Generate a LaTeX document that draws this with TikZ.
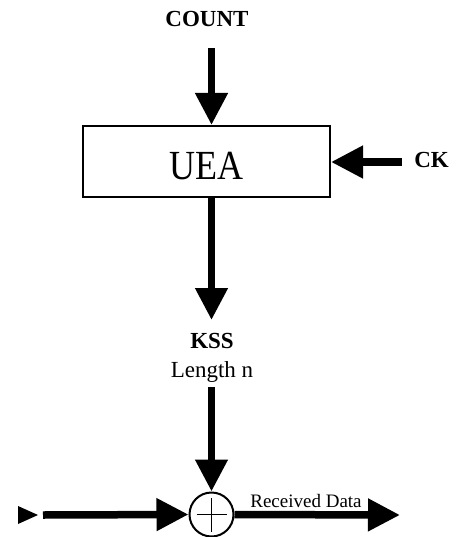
\documentclass[tikz,border=0pt]{standalone}
\usepackage{fontspec}
\setmainfont{Liberation Serif}
\usetikzlibrary{arrows.meta}

\tikzset{
  flow/.style={line width=7.5bp, -{Triangle[width=31bp,length=32bp]}},
  lbl/.style={font=\fontsize{23bp}{26bp}\selectfont\bfseries, anchor=base, inner sep=0pt},
  plain/.style={font=\fontsize{23bp}{26bp}\selectfont, anchor=base, inner sep=0pt},
  small/.style={font=\fontsize{19bp}{22bp}\selectfont, anchor=base, inner sep=0pt},
  blockbox/.style={draw, line width=2bp, minimum width=247bp, minimum height=71bp, inner sep=0pt},
  xorcirc/.style={draw, circle, line width=2bp, minimum size=44bp, inner sep=0pt}
}

\begin{document}
\begin{tikzpicture}[x=1bp, y=-1bp]
  \useasboundingbox (0,0) rectangle (466,537);

  % blocks
  \node[blockbox] (uea) at (206.5,161.5) {};
  \node[anchor=base, inner sep=0pt, font=\fontsize{36bp}{40bp}\selectfont] (ueatext) at (206.5,180) {\scalebox{1}[1.15]{UEA}};
  \node[xorcirc] (xor) at (211.5,514.5) {};
  \draw[line width=1.6bp] ([xshift=-15bp]xor.center) -- ([xshift=15bp]xor.center)
                          ([yshift=-17bp]xor.center) -- ([yshift=17bp]xor.center);

  % labels
  \node[lbl] (count) at (207,27) {COUNT};
  \node[lbl] (ck) at (431.5,168) {CK};
  \node[lbl] (kss) at (212,348) {KSS};
  \node[plain] (len) at (212,377) {Length n};
  \node[small] (rx) at (306,507) {Received Data};

  % connector ends
  \coordinate (countin) at (211.5,48);
  \coordinate (ckin) at (402,162);
  \coordinate (ksstip) at (211.5,320);
  \coordinate (kssin) at (211.5,387);
  \coordinate (datain) at (43,515);
  \coordinate (dataout) at (400,515);

  % connectors
  \draw[flow] (countin) -- (xor |- uea.north);
  \draw[flow] (ckin) -- (uea.east |- ckin);
  \draw[flow] (xor |- uea.south) -- (ksstip);
  \draw[flow] (kssin) -- (xor.north);
  \draw[flow] (datain) -- (xor.west);
  \draw[flow] (xor.east) -- (dataout);

  % small lead-in mark before the input line
  \fill (18,506) -- (38,515) -- (18,524) -- cycle;
\end{tikzpicture}
\end{document}
